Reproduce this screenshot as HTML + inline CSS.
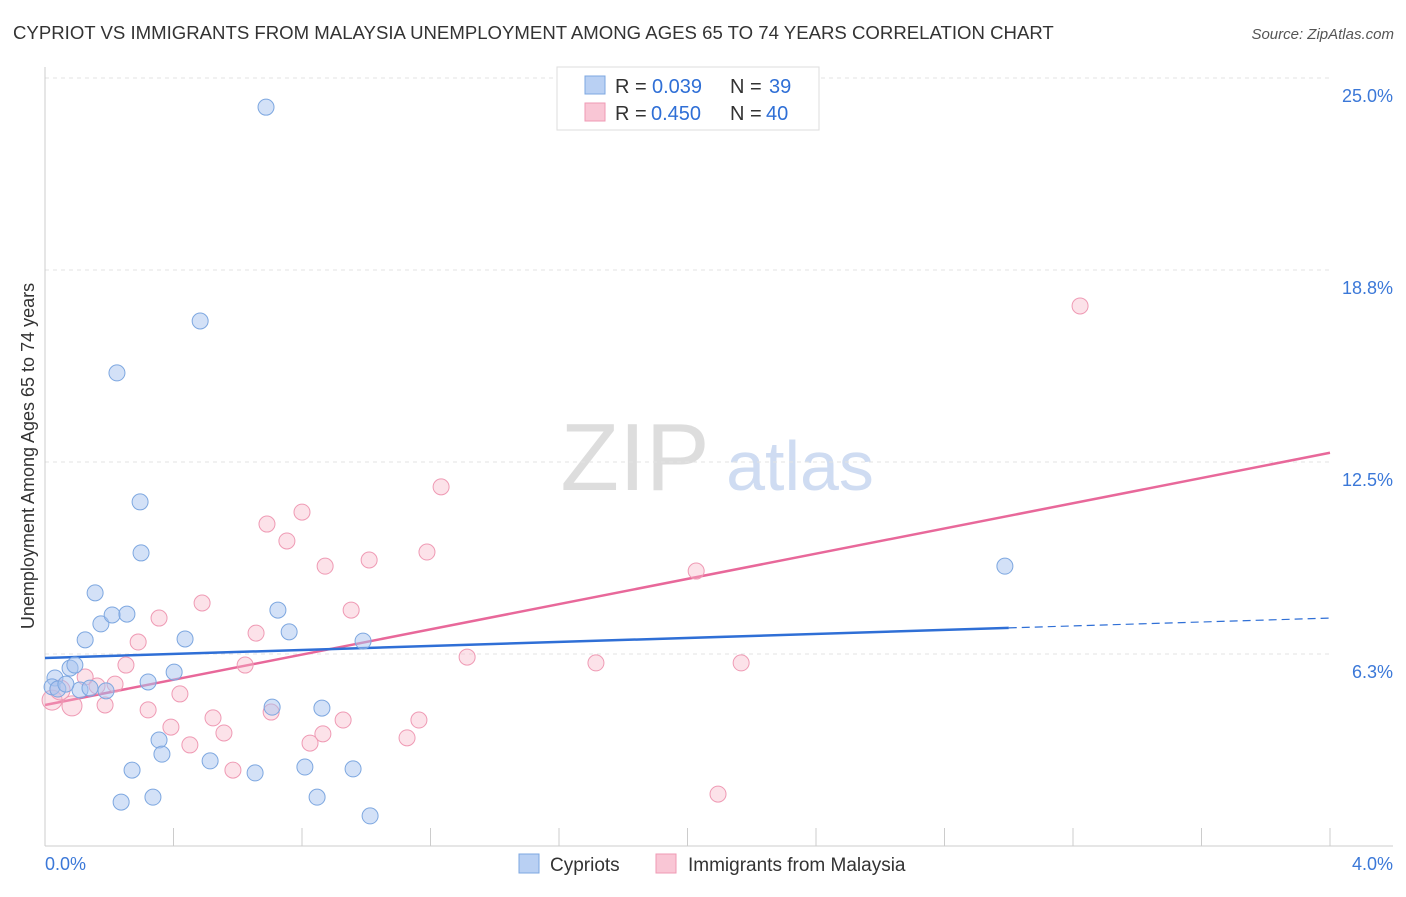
<!DOCTYPE html>
<html><head><meta charset="utf-8"><style>
body{margin:0;background:#fff;font-family:"Liberation Sans",sans-serif;}
svg text{font-family:"Liberation Sans",sans-serif;}
</style></head><body>
<svg id="chart" width="1406" height="892" xmlns="http://www.w3.org/2000/svg">
<text x="13" y="39" font-size="18.6" fill="#333">CYPRIOT VS IMMIGRANTS FROM MALAYSIA UNEMPLOYMENT AMONG AGES 65 TO 74 YEARS CORRELATION CHART</text>
<text x="1394" y="39" font-size="15" fill="#555" text-anchor="end" font-style="italic">Source: ZipAtlas.com</text>
<text x="635" y="490" font-size="96" fill="#ddd" font-family="Liberation Serif" text-anchor="middle">ZIP</text>
<text x="800" y="490" font-size="70" fill="#cfdcf2" text-anchor="middle">atlas</text>
<g id="grid"></g><g id="axes"></g><g id="lines"></g><g id="points"></g>
<text transform="translate(34,456) rotate(-90)" font-size="18" fill="#333" text-anchor="middle">Unemployment Among Ages 65 to 74 years</text>
<g>
<rect x="557" y="67" width="262" height="63" fill="#fff" stroke="#ddd"/>
<rect x="585" y="76" width="20" height="18" fill="#b9d0f3" stroke="#7da7e0"/>
<rect x="585" y="103" width="20" height="18" fill="#f9c6d5" stroke="#ef9ab4"/>
<text x="615" y="93" font-size="20" fill="#333">R =</text>
<text x="652" y="93" font-size="20" fill="#2f6fd6">0.039</text>
<text x="730" y="93" font-size="20" fill="#333">N =</text>
<text x="769" y="93" font-size="20" fill="#2f6fd6">39</text>
<text x="615" y="120" font-size="20" fill="#333">R =</text>
<text x="651" y="120" font-size="20" fill="#2f6fd6">0.450</text>
<text x="730" y="120" font-size="20" fill="#333">N =</text>
<text x="766" y="120" font-size="20" fill="#2f6fd6">40</text>
</g>
<g>
<rect x="519" y="854" width="20" height="19" fill="#b9d0f3" stroke="#7da7e0"/>
<text x="550" y="871" font-size="19" fill="#333">Cypriots</text>
<rect x="656" y="854" width="20" height="19" fill="#f9c6d5" stroke="#ef9ab4"/>
<text x="688" y="871" font-size="19" fill="#333">Immigrants from Malaysia</text>
</g>
</svg>
<script>
const xTicks=[0,0.4,0.8,1.2,1.6,2.0,2.4,2.8,3.2,3.6,4.0];
const yTicks=[6.25,12.5,18.75,25];
const yTickLabels=["6.3%","12.5%","18.8%","25.0%"];
const xLabels=["0.0%","4.0%"];
const cypX=[0.688,0.483,0.224,0.296,0.299,0.156,0.174,0.209,0.255,0.125,0.078,0.093,0.031,0.022,0.040,0.109,0.140,0.190,0.321,0.402,0.436,0.725,0.760,0.990,0.707,0.862,0.355,0.364,0.514,0.271,0.654,0.809,0.959,0.237,0.336,0.847,1.012,2.988,0.065];
const cypY=[24.05,17.09,15.40,11.20,9.54,8.24,7.23,7.52,7.55,6.71,5.79,5.89,5.47,5.18,5.11,5.08,5.14,5.05,5.34,5.66,6.74,7.68,6.97,6.67,4.52,4.49,3.45,2.99,2.77,2.47,2.38,2.57,2.51,1.43,1.59,1.59,0.98,9.11,5.27];
const malX=[3.222,1.233,0.800,0.691,0.753,1.189,1.009,0.872,2.027,0.489,0.355,0.953,0.290,0.657,0.252,0.623,1.314,1.715,2.167,0.125,0.218,0.162,0.420,0.187,0.084,0.022,0.321,0.704,0.523,0.928,1.164,0.392,0.557,0.865,0.825,0.451,1.127,0.585,2.095,0.047];
const malY=[17.58,11.69,10.87,10.48,9.93,9.57,9.31,9.11,8.95,7.91,7.42,7.68,6.64,6.93,5.89,5.89,6.15,5.96,5.96,5.50,5.27,5.21,4.95,4.59,4.56,4.75,4.43,4.36,4.17,4.10,4.10,3.87,3.68,3.65,3.35,3.29,3.52,2.47,1.69,5.08];
const cypLine=[6.12,7.10,7.42]; // at x=0, 3.0, 4.0
const malLine=[4.59,12.8];
const NS="http://www.w3.org/2000/svg";
const X=v=>45+v/4*1285, Y=v=>846-v/6.25*192;
function mk(p,t,a){const e=document.createElementNS(NS,t);for(const k in a)e.setAttribute(k,a[k]);document.getElementById(p).appendChild(e);return e;}
yTicks.forEach((t,i)=>{
 const g=mk('grid','line',{x1:45,x2:1330,y1:Y(t),y2:Y(t),stroke:'#e3e3e3','stroke-dasharray':'4,4'});
 
 
 const l=mk('grid','text',{x:1393,y:Y(t)+24,'font-size':18,fill:'#3b78d8','text-anchor':'end'});l.textContent=yTickLabels[i];
 
 
});
const ax=mk('axes','line',{x1:45,x2:45,y1:67,y2:846,stroke:'#ccc'});


const bx=mk('axes','line',{x1:45,x2:1393,y1:846,y2:846,stroke:'#ccc'});


xTicks.forEach(t=>{const e=mk('axes','line',{x1:X(t),x2:X(t),y1:828,y2:846,stroke:'#ccc'});
 
 });
[[0,xLabels[0],'start',45],[4,xLabels[1],'end',1393]].forEach(([v,s,a,px])=>{const e=mk('axes','text',{x:px,y:870,'font-size':18,fill:'#3b78d8','text-anchor':a});e.textContent=s;
 
 });
let e=mk('lines','line',{x1:X(0),y1:Y(malLine[0]),x2:X(4),y2:Y(malLine[1]),stroke:'#e8689a','stroke-width':2.5});


e=mk('lines','line',{x1:X(0),y1:Y(cypLine[0]),x2:X(3),y2:Y(cypLine[1]),stroke:'#2f6fd6','stroke-width':2.5});


e=mk('lines','line',{x1:X(3),y1:Y(cypLine[1]),x2:X(4),y2:Y(cypLine[2]),stroke:'#2f6fd6','stroke-width':1.2,'stroke-dasharray':'8,5'});


malX.forEach((x,i)=>{const c=mk('points','circle',{cx:X(x),cy:Y(malY[i]),r:x<0.1?10:8,fill:'rgba(248,182,200,0.4)',stroke:'#ef9ab4','stroke-width':1});
 
 });
cypX.forEach((x,i)=>{const c=mk('points','circle',{cx:X(x),cy:Y(cypY[i]),r:8,fill:'rgba(168,196,240,0.5)',stroke:'#7da7e0','stroke-width':1});
 
 });
</script>
</body></html>
